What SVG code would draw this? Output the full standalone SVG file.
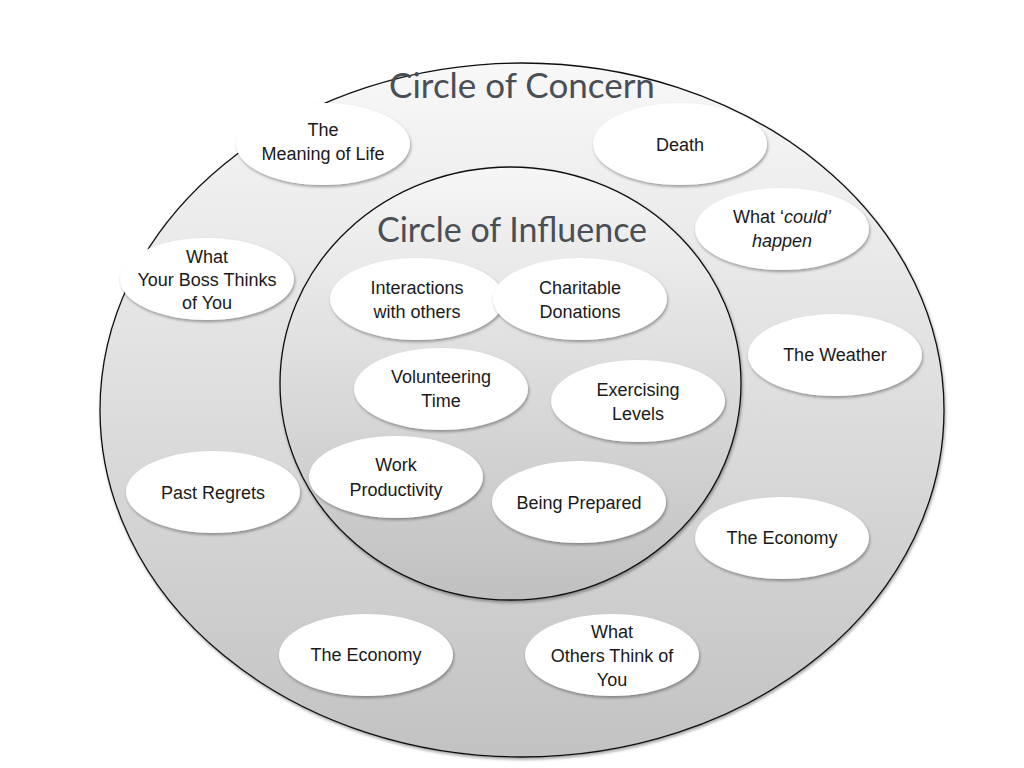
<svg xmlns="http://www.w3.org/2000/svg" width="1024" height="768" viewBox="0 0 1024 768">
<defs>
<linearGradient id="gOuter" x1="0" y1="0" x2="0" y2="1">
<stop offset="0" stop-color="#f8f8f8"/>
<stop offset="1" stop-color="#c2c2c2"/>
</linearGradient>
<linearGradient id="gInner" x1="0" y1="0" x2="0" y2="1">
<stop offset="0" stop-color="#f6f6f6"/>
<stop offset="1" stop-color="#c0c0c0"/>
</linearGradient>
<filter id="sh" x="-20%" y="-20%" width="140%" height="140%">
<feDropShadow dx="1" dy="2" stdDeviation="1.5" flood-color="#000" flood-opacity="0.35"/>
</filter>
</defs>
<style>
.bub{fill:#fff;filter:url(#sh);}
.lbl{font-family:"Liberation Sans",Arial,sans-serif;font-size:18px;fill:#1a1a1a;text-anchor:middle;}
.ttl{font-family:Lato,"Open Sans",sans-serif;font-size:35px;fill:#4a4f56;text-anchor:middle;}
.ttl2{font-size:34px;}
.ring{stroke:#111;stroke-width:1.3;filter:url(#sh);}
</style>
<rect width="1024" height="768" fill="#fff"/>
<g id="concern">
<ellipse class="ring" cx="522" cy="410" rx="422" ry="347" fill="url(#gOuter)"/>
<text class="ttl" x="522" y="98">Circle of Concern</text>
</g>
<g id="influence">
<ellipse class="ring" cx="510.5" cy="383.5" rx="230.5" ry="216.5" fill="url(#gInner)"/>
<text class="ttl ttl2" x="512" y="242">Circle of Influence</text>
</g>
<g id="meaning"><ellipse class="bub" cx="323" cy="144" rx="87" ry="41"/><text class="lbl" x="323" y="136">The</text><text class="lbl" x="323" y="160">Meaning of Life</text></g>
<g id="death"><ellipse class="bub" cx="680" cy="144" rx="87" ry="41"/><text class="lbl" x="680" y="151">Death</text></g>
<g id="could"><ellipse class="bub" cx="782" cy="229" rx="87" ry="41"/><text class="lbl" x="782" y="223">What ‘<tspan font-style="italic">could’</tspan></text><text class="lbl" x="782" y="247" font-style="italic">happen</text></g>
<g id="boss"><ellipse class="bub" cx="207" cy="279" rx="87" ry="41"/><text class="lbl" x="207" y="263">What</text><text class="lbl" x="207" y="286">Your Boss Thinks</text><text class="lbl" x="207" y="309">of You</text></g>
<g id="interactions"><ellipse class="bub" cx="417" cy="299" rx="87" ry="41"/><text class="lbl" x="417" y="294">Interactions</text><text class="lbl" x="417" y="318">with others</text></g>
<g id="charitable"><ellipse class="bub" cx="580" cy="299" rx="87" ry="41"/><text class="lbl" x="580" y="294">Charitable</text><text class="lbl" x="580" y="318">Donations</text></g>
<g id="weather"><ellipse class="bub" cx="835" cy="355" rx="87" ry="41"/><text class="lbl" x="835" y="361">The Weather</text></g>
<g id="volunteering"><ellipse class="bub" cx="441" cy="389" rx="87" ry="41"/><text class="lbl" x="441" y="383">Volunteering</text><text class="lbl" x="441" y="407">Time</text></g>
<g id="exercising"><ellipse class="bub" cx="638" cy="401" rx="87" ry="41"/><text class="lbl" x="638" y="396">Exercising</text><text class="lbl" x="638" y="420">Levels</text></g>
<g id="work"><ellipse class="bub" cx="396" cy="477" rx="87" ry="41"/><text class="lbl" x="396" y="471">Work</text><text class="lbl" x="396" y="496">Productivity</text></g>
<g id="prepared"><ellipse class="bub" cx="579" cy="502" rx="87" ry="41"/><text class="lbl" x="579" y="509">Being Prepared</text></g>
<g id="regrets"><ellipse class="bub" cx="213" cy="492" rx="87" ry="41"/><text class="lbl" x="213" y="499">Past Regrets</text></g>
<g id="economy1"><ellipse class="bub" cx="782" cy="538" rx="87" ry="41"/><text class="lbl" x="782" y="544">The Economy</text></g>
<g id="economy2"><ellipse class="bub" cx="366" cy="655" rx="87" ry="41"/><text class="lbl" x="366" y="661">The Economy</text></g>
<g id="others"><ellipse class="bub" cx="612" cy="655" rx="87" ry="41"/><text class="lbl" x="612" y="638">What</text><text class="lbl" x="612" y="662">Others Think of</text><text class="lbl" x="612" y="686">You</text></g>
<g id="connectors"></g>
</svg>
